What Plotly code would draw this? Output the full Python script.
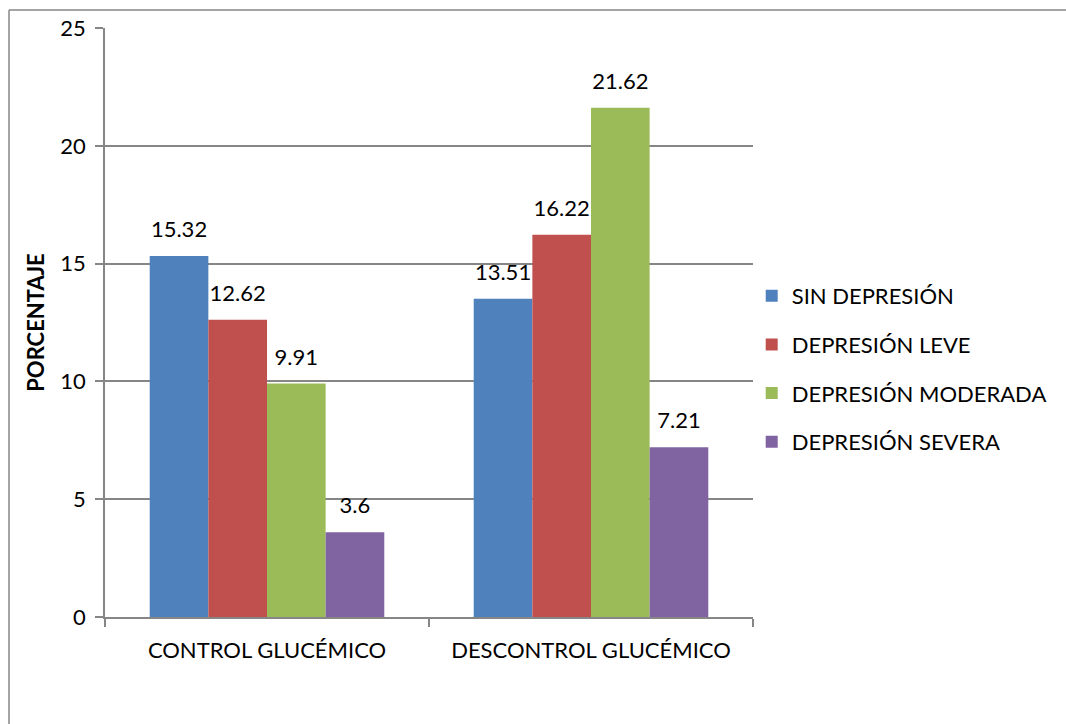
import plotly.graph_objects as go

# Glycemic control groups and depression severity percentages
categories = ["CONTROL GLUCÉMICO", "DESCONTROL GLUCÉMICO"]
series_names = ["SIN DEPRESIÓN", "DEPRESIÓN LEVE", "DEPRESIÓN MODERADA", "DEPRESIÓN SEVERA"]
sin_depresion = [15.32, 13.51]
depresion_leve = [12.62, 16.22]
depresion_moderada = [9.91, 21.62]
depresion_severa = [3.6, 7.21]
y_ticks = [0, 5, 10, 15, 20, 25]

series_values = [sin_depresion, depresion_leve, depresion_moderada, depresion_severa]
colors = ["#4F81BD", "#C0504D", "#9BBB59", "#8064A2"]

FONT = "Lato"
FS = 22
GRAY = "#868686"
GAP = 0.276

fig = go.Figure()
for i, (name, vals, col) in enumerate(zip(series_names, series_values, colors)):
    fig.add_trace(go.Bar(
        x=categories,
        y=vals,
        name=name,
        legendgroup=f"g{i}",
        offsetgroup=f"g{i}",
        marker=dict(color=col, line=dict(width=0)),
        hoverinfo="skip",
    ))

# value labels, grouped the same way as the bars so each sits over its bar;
# the invisible marker keeps the text a little above the bar top
for i, vals in enumerate(series_values):
    fig.add_trace(go.Scatter(
        x=categories,
        y=vals,
        mode="markers+text",
        text=[f"{v:g}" for v in vals],
        textposition="top center",
        textfont=dict(family=FONT, size=FS, color="black"),
        marker=dict(size=20, color="rgba(0,0,0,0)", line=dict(width=0)),
        offsetgroup=f"g{i}",
        showlegend=False,
        cliponaxis=False,
        hoverinfo="skip",
    ))

fig.update_layout(
    width=1066,
    height=724,
    margin=dict(l=105, r=313, t=28, b=107),
    paper_bgcolor="white",
    plot_bgcolor="white",
    barmode="group",
    bargap=GAP,
    bargroupgap=0,
    scattermode="group",
    scattergap=GAP,
    font=dict(family=FONT, size=FS, color="black"),
    legend=dict(
        x=0.998, xanchor="left",
        y=0.421, yanchor="middle",
        tracegroupgap=17,
        font=dict(family=FONT, size=FS, color="black"),
        bgcolor="rgba(0,0,0,0)",
    ),
    xaxis=dict(
        showline=True, linecolor=GRAY, linewidth=1.5,
        ticks="outside", tickson="boundaries", ticklen=8,
        tickcolor=GRAY, tickwidth=1.5,
        ticklabelstandoff=13,
        tickfont=dict(family=FONT, size=FS, color="black"),
        showgrid=False,
    ),
    yaxis=dict(
        range=[0, 25],
        tickvals=y_ticks,
        showline=True, linecolor=GRAY, linewidth=1.5,
        ticks="outside", ticklen=8, tickcolor=GRAY, tickwidth=1.5,
        ticklabelstandoff=5,
        showgrid=True, gridcolor=GRAY, gridwidth=1.5,
        zeroline=False,
        tickfont=dict(family=FONT, size=FS, color="black"),
        title=dict(text="<b>PORCENTAJE</b>", font=dict(family=FONT, size=FS, color="black"), standoff=10),
    ),
    shapes=[
        # chart frame (top and left edges visible)
        dict(type="line", xref="paper", yref="paper",
             x0=(9 - 105) / 648, x1=(1066 - 105) / 648,
             y0=(617 - 10) / 589, y1=(617 - 10) / 589,
             line=dict(color=GRAY, width=1.5)),
        dict(type="line", xref="paper", yref="paper",
             x0=(9 - 105) / 648, x1=(9 - 105) / 648,
             y0=(617 - 10) / 589, y1=(617 - 724) / 589,
             line=dict(color=GRAY, width=1.5)),
    ],
)

fig.write_html("out.html")
